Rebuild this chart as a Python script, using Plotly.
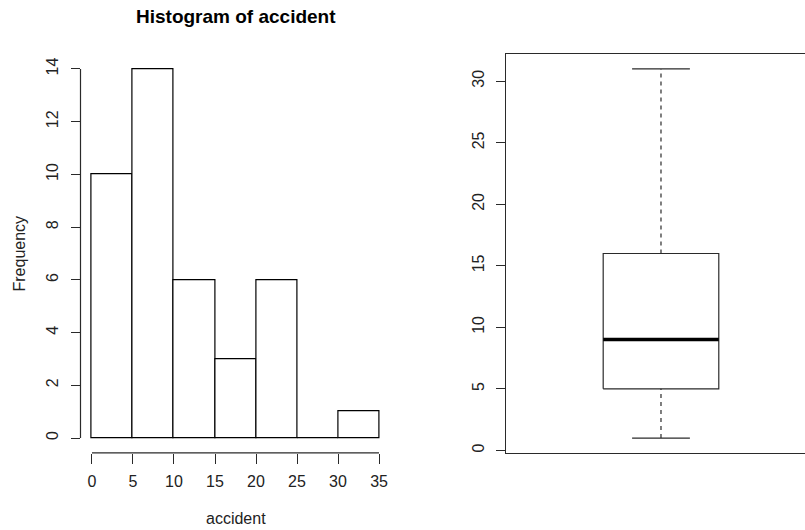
import plotly.graph_objects as go

# ---- data ----
bin_edges = [0, 5, 10, 15, 20, 25, 30, 35]
counts = [10, 14, 6, 3, 6, 0, 1]
hist_yticks = [0, 2, 4, 6, 8, 10, 12, 14]
box_yticks = [0, 5, 10, 15, 20, 25, 30]
box_min, box_q1, box_med, box_q3, box_max = 1, 5, 9, 16, 31

W, H = 805, 530
FONT = "Liberation Sans, Arial, sans-serif"
LINE = "#2a2a2a"
LW = 1.2

centers = [(bin_edges[i] + bin_edges[i + 1]) / 2 for i in range(len(counts))]
widths = [bin_edges[i + 1] - bin_edges[i] for i in range(len(counts))]

fig = go.Figure()
fig.add_trace(go.Bar(x=centers, y=counts, width=widths,
                     marker=dict(color="white", line=dict(color="black", width=LW)),
                     xaxis="x", yaxis="y", showlegend=False, hoverinfo="x+y"))

# boxplot drawn manually (R style)
c, bw = 1.0, 0.8
sw = bw * 0.5
kw = dict(xaxis="x2", yaxis="y2", mode="lines", showlegend=False, hoverinfo="skip")
fig.add_trace(go.Scatter(x=[c - bw/2, c + bw/2, c + bw/2, c - bw/2, c - bw/2],
                         y=[box_q1, box_q1, box_q3, box_q3, box_q1],
                         line=dict(color=LINE, width=LW), **kw))
fig.add_trace(go.Scatter(x=[c, c], y=[box_q3, box_max],
                         line=dict(color=LINE, width=LW, dash="4px,4px"), **kw))
fig.add_trace(go.Scatter(x=[c, c], y=[box_min, box_q1],
                         line=dict(color=LINE, width=LW, dash="4px,4px"), **kw))
fig.add_trace(go.Scatter(x=[c - sw/2, c + sw/2], y=[box_max, box_max],
                         line=dict(color=LINE, width=LW), **kw))
fig.add_trace(go.Scatter(x=[c - sw/2, c + sw/2], y=[box_min, box_min],
                         line=dict(color=LINE, width=LW), **kw))
fig.add_trace(go.Scatter(x=[c - bw/2, c + bw/2], y=[box_med, box_med],
                         line=dict(color="black", width=3.5), **kw))

tickfont = dict(family=FONT, size=16, color="#222222")
hx_dom = [80.5 / W, 390.5 / W]
y_dom = [1 - 452.8 / H, 1 - 54.2 / H]
bx_dom = [505.7 / W, 1.0]

fig.update_layout(
    width=W, height=H, margin=dict(l=0, r=0, t=0, b=0),
    paper_bgcolor="white", plot_bgcolor="white", bargap=0,
    xaxis=dict(domain=hx_dom, range=[-1.4, 36.4], tickvals=bin_edges,
               ticks="outside", ticklen=10, tickcolor=LINE, tickwidth=LW, showline=False,
               showgrid=False, zeroline=False, tickfont=tickfont,
               ticklabelstandoff=4, anchor="y"),
    yaxis=dict(domain=y_dom, range=[-0.56, 14.56], tickvals=hist_yticks,
               ticks="outside", ticklen=9, tickcolor=LINE, tickwidth=LW, showline=False,
               showgrid=False, zeroline=False, tickfont=tickfont,
               tickangle=-90, ticklabelstandoff=6, anchor="x"),
    xaxis2=dict(domain=bx_dom, range=[-0.0747, 1.9966], showticklabels=False,
                ticks="", showline=True, mirror=True, linecolor=LINE, linewidth=LW,
                showgrid=False, zeroline=False, anchor="y2"),
    yaxis2=dict(domain=y_dom, range=[-0.2, 32.2], tickvals=box_yticks,
                ticks="outside", ticklen=9, tickcolor=LINE, tickwidth=LW, showline=True,
                linecolor=LINE, linewidth=LW, showgrid=False, zeroline=False,
                tickfont=tickfont, tickangle=-90, ticklabelstandoff=5, anchor="x2"),
    shapes=[
        dict(type="line", xref="x", yref="paper", x0=bin_edges[0], x1=bin_edges[-1],
             y0=y_dom[0], y1=y_dom[0], line=dict(color=LINE, width=LW)),
        dict(type="line", xref="paper", yref="y", x0=hx_dom[0], x1=hx_dom[0],
             y0=hist_yticks[0], y1=hist_yticks[-1], line=dict(color=LINE, width=LW)),
    ],
    annotations=[
        dict(text="<b>Histogram of accident</b>", xref="paper", yref="paper",
             x=(hx_dom[0] + hx_dom[1]) / 2, y=1 - 17 / H, showarrow=False,
             font=dict(family=FONT, size=19, color="black"), xanchor="center", yanchor="middle"),
        dict(text="accident", xref="paper", yref="paper",
             x=(hx_dom[0] + hx_dom[1]) / 2, y=1 - 518 / H, showarrow=False,
             font=dict(family=FONT, size=16, color="#222222"), xanchor="center", yanchor="middle"),
        dict(text="Frequency", xref="paper", yref="paper", textangle=-90,
             x=19 / W, y=(y_dom[0] + y_dom[1]) / 2, showarrow=False,
             font=dict(family=FONT, size=16, color="#222222"), xanchor="center", yanchor="middle"),
    ],
)

fig.write_html("out.html")
